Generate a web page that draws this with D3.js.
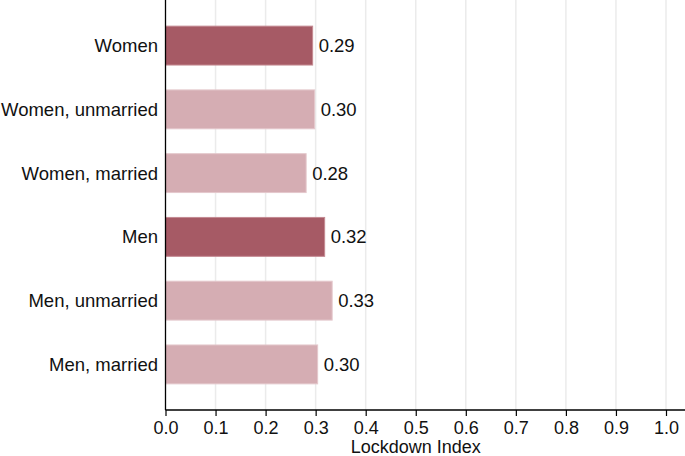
<!DOCTYPE html>
<html><head><meta charset="utf-8">
<script src="https://cdn.jsdelivr.net/npm/d3@7"></script>
<style>body{margin:0;background:#fff}svg{display:block}text{font-family:"Liberation Sans",Arial,sans-serif}</style>
</head><body><svg id="c" width="685" height="456"></svg>
<script>
const categories = ["Women","Women, unmarried","Women, married","Men","Men, unmarried","Men, married"];
const values = [0.294, 0.298, 0.281, 0.318, 0.333, 0.304];
const isTotal = [true,false,false,true,false,false];
const xTicks = [0,0.1,0.2,0.3,0.4,0.5,0.6,0.7,0.8,0.9,1.0];
const xTitle = "Lockdown Index";

const FS = 18.5;
const svg = d3.select("#c");
const x = d3.scaleLinear().domain([0,1]).range([165.5,666]);
const y = d3.scaleBand().domain(categories).range([0,410]).paddingInner(0.39).paddingOuter(0.41);
const axisY = 410;

svg.append("g").selectAll("line").data(xTicks.slice(1)).join("line")
  .attr("x1",d=>x(d)).attr("x2",d=>x(d)).attr("y1",0).attr("y2",axisY)
  .attr("stroke","#ebebeb").attr("stroke-width",1.5);

svg.append("g").selectAll("rect").data(categories).join("rect")
  .attr("x",x(0)).attr("y",d=>y(d)).attr("height",y.bandwidth())
  .attr("width",(d,i)=>x(values[i])-x(0))
  .attr("fill",(d,i)=>isTotal[i]?"#a65a65":"#d5adb3")
  .attr("stroke",(d,i)=>isTotal[i]?"#c48a92":"#e4c8cc").attr("stroke-width",1);

svg.append("g").selectAll("text").data(categories).join("text")
  .attr("x",(d,i)=>x(values[i])+6).attr("y",d=>y(d)+y.bandwidth()/2)
  .attr("dy","0.35em").attr("font-size",FS).attr("fill","#111")
  .text((d,i)=>d3.format(".2f")(values[i]));

svg.append("g").selectAll("text").data(categories).join("text")
  .attr("x",158).attr("y",d=>y(d)+y.bandwidth()/2).attr("dy","0.35em")
  .attr("text-anchor","end").attr("font-size",FS).attr("fill","#111").text(d=>d);

svg.append("line").attr("x1",x(0)).attr("x2",x(0)).attr("y1",0).attr("y2",axisY)
  .attr("stroke","#000").attr("stroke-width",1.3);

const ax = d3.axisBottom(x).tickValues(xTicks).tickFormat(d3.format(".1f")).tickSize(6).tickPadding(5);
const g = svg.append("g").attr("transform",`translate(0,${axisY})`).call(ax);
g.select(".domain").remove();
g.append("line").attr("x1",x(0)).attr("x2",685).attr("stroke","#000").attr("stroke-width",1.3);
g.selectAll(".tick line").attr("stroke","#000").attr("stroke-width",1.2);
g.selectAll(".tick text").attr("font-size",18).attr("fill","#111").attr("font-family","Liberation Sans, Arial, sans-serif");

svg.append("text").attr("x",x(0.5)).attr("y",453).attr("text-anchor","middle")
  .attr("font-size",18).attr("fill","#111").text(xTitle);
</script></body></html>
